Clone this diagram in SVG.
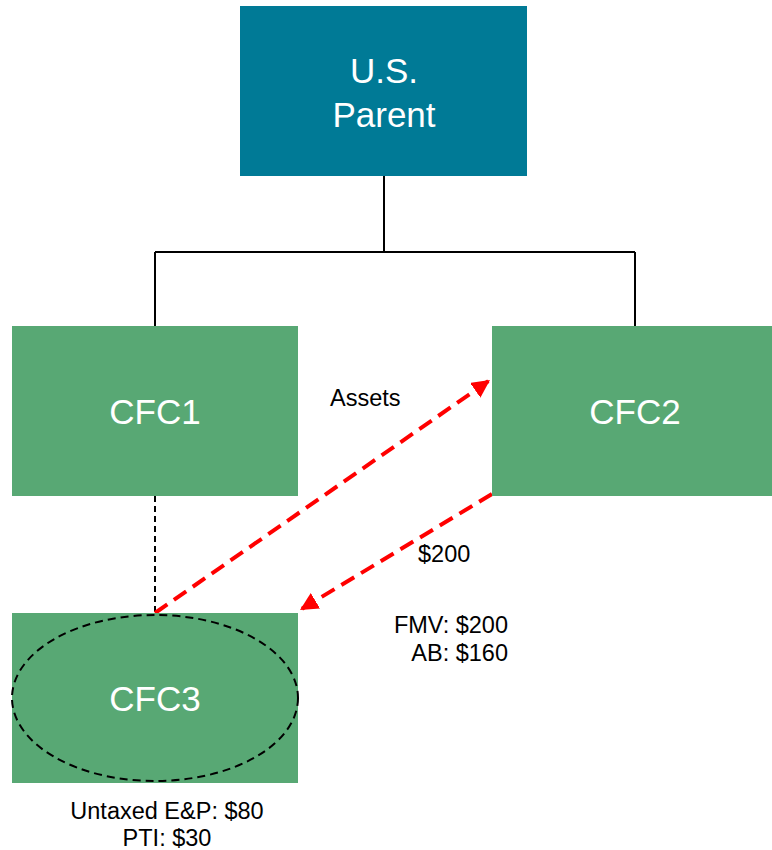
<svg xmlns="http://www.w3.org/2000/svg" width="772" height="850" viewBox="0 0 772 850">
<style>
.box{stroke:none}
.parent{fill:#007A96}
.cfc{fill:#58A874}
.big{font-family:"Liberation Sans",Arial,sans-serif;font-size:35px;fill:#fff;text-anchor:middle}
.lbl{font-family:"Liberation Sans",Arial,sans-serif;font-size:23.5px;fill:#000}
.tree{fill:none;stroke:#000;stroke-width:2}
.red{fill:none;stroke:#FF0000;stroke-width:4;stroke-dasharray:15 8}
</style>
<defs>
<marker id="ah" markerUnits="userSpaceOnUse" markerWidth="20" markerHeight="18" refX="18" refY="9" orient="auto">
<path d="M0,0 L18,9 L0,18 Z" fill="#FF0000"/>
</marker>
</defs>
<rect width="772" height="850" fill="#fff"/>
<g id="connectors">
<path class="tree" d="M384,176 V252 M155,252 H635 M155,252 V326"/>
<path class="tree" d="M635,252 V326"/>
<line class="tree" x1="155" y1="496" x2="155" y2="613" stroke-dasharray="6 4"/>
<line class="red" x1="155" y1="613" x2="490" y2="380" marker-end="url(#ah)"/>
<line class="red" x1="492" y1="494" x2="300" y2="610" marker-end="url(#ah)"/>
</g>
<g id="parent">
<rect class="box parent" x="240" y="6" width="287" height="170"/>
<text class="big" x="384" y="83">U.S.</text>
<text class="big" x="384" y="127">Parent</text>
</g>
<g id="cfc1">
<rect class="box cfc" x="12" y="326" width="286" height="170"/>
<text class="big" x="155" y="424">CFC1</text>
</g>
<g id="cfc2">
<rect class="box cfc" x="492" y="326" width="280" height="170"/>
<text class="big" x="635" y="424">CFC2</text>
</g>
<g id="cfc3">
<rect class="box cfc" x="12" y="613" width="286" height="170"/>
<ellipse cx="155" cy="698" rx="143" ry="83" fill="none" stroke="#000" stroke-width="2" stroke-dasharray="8 5"/>
<text class="big" x="155" y="711">CFC3</text>
</g>
<g id="labels">
<text class="lbl" x="330" y="406">Assets</text>
<text class="lbl" x="418" y="562">$200</text>
<text class="lbl" x="508" y="633" text-anchor="end">FMV: $200</text>
<text class="lbl" x="508" y="661" text-anchor="end">AB: $160</text>
<text class="lbl" x="167" y="819" text-anchor="middle">Untaxed E&amp;P: $80</text>
<text class="lbl" x="167" y="846" text-anchor="middle">PTI: $30</text>
</g>
</svg>
